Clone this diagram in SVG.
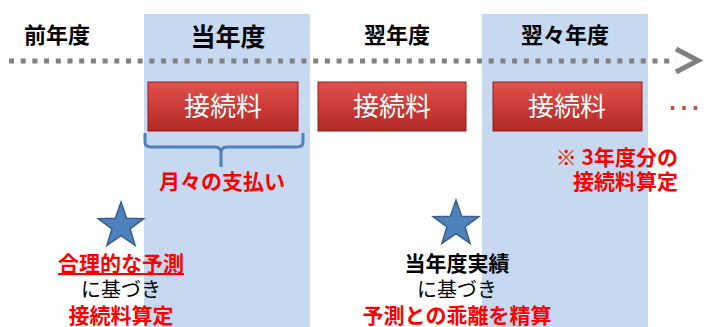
<svg xmlns="http://www.w3.org/2000/svg" width="709" height="327" viewBox="0 0 709 327">
<defs>
<style>
.hdr{font-family:"Noto Sans CJK JP","Noto Sans CJK SC",sans-serif;font-weight:bold;fill:#000;text-anchor:middle}
.box{stroke:#8e1f1c;stroke-width:1;fill:url(#rg)}
.bt{font-family:"Noto Sans CJK JP","Noto Sans CJK SC",sans-serif;font-size:26px;fill:#fff;text-anchor:middle}
.red{font-family:"Noto Sans CJK JP","Noto Sans CJK SC",sans-serif;font-weight:bold;fill:#ff0000;font-size:21px}
.blk{font-family:"Noto Sans CJK JP","Noto Sans CJK SC",sans-serif;fill:#000;font-size:20px}
.star{fill:#4f81bd;stroke:#385d8a;stroke-width:1.5}
</style>
<linearGradient id="rg" x1="0" y1="0" x2="0" y2="1">
<stop offset="0" stop-color="#e0534f"/>
<stop offset="0.5" stop-color="#cc3b37"/>
<stop offset="1" stop-color="#b02a26"/>
</linearGradient>
<path id="starshape" d="M0,-24 L5.6,-7.7 L22.8,-7.4 L9.1,3 L14.1,19.4 L0,9.6 L-14.1,19.4 L-9.1,3 L-22.8,-7.4 L-5.6,-7.7 Z"/>
</defs>
<rect width="709" height="327" fill="#fff"/>
<g id="columns">
<rect x="144" y="14" width="166" height="313" fill="#c6d9f0"/>
<rect x="482" y="14" width="166" height="313" fill="#c6d9f0"/>
</g>
<g id="connectors">
<line x1="9" y1="61" x2="676" y2="61" stroke="#808080" stroke-width="5" stroke-dasharray="5 6.7"/>
<polyline points="676,49 698,60.5 676,72" fill="none" stroke="#808080" stroke-width="5" stroke-linejoin="miter"/>
<path d="M145,133 V142 Q145,147 151,147 H215 Q221,147 221,153 V167 M221,153 Q221,147 227,147 H297 Q303,147 303,142 V133" fill="none" stroke="#4f81bd" stroke-width="3"/>
</g>
<g id="headers">
<text class="hdr" x="57" y="43" font-size="22">前年度</text>
<text class="hdr" x="228" y="46" font-size="25">当年度</text>
<text class="hdr" x="397" y="43" font-size="22">翌年度</text>
<text class="hdr" x="565" y="43" font-size="22">翌々年度</text>
</g>
<g id="box1">
<rect class="box" x="148" y="82" width="150" height="49"/>
<text class="bt" x="223" y="116">接続料</text>
</g>
<g id="box2">
<rect class="box" x="318" y="82" width="148" height="49"/>
<text class="bt" x="392" y="116">接続料</text>
</g>
<g id="box3">
<rect class="box" x="493" y="82" width="149" height="49"/>
<text class="bt" x="567" y="116">接続料</text>
</g>
<g id="ellipsis">
<text x="684" y="110" font-family="Liberation Sans, sans-serif" font-size="36" fill="#c0504d" text-anchor="middle">…</text>
</g>
<g id="monthly">
<text class="red" x="222" y="189" text-anchor="middle">月々の支払い</text>
</g>
<g id="note">
<text class="red" x="678" y="165" text-anchor="end">※ 3年度分の</text>
<text class="red" x="678" y="189" text-anchor="end">接続料算定</text>
</g>
<g id="star1">
<use href="#starshape" class="star" transform="translate(121,226)"/>
</g>
<g id="star2">
<use href="#starshape" class="star" transform="translate(456,224)"/>
</g>
<g id="label1">
<text class="red" x="121" y="271" text-anchor="middle" text-decoration="underline">合理的な予測</text>
<text class="blk" x="121" y="297" text-anchor="middle">に基づき</text>
<text class="red" x="121" y="323" text-anchor="middle">接続料算定</text>
</g>
<g id="label2">
<text class="red" x="457" y="271" text-anchor="middle" style="fill:#000">当年度実績</text>
<text class="blk" x="457" y="297" text-anchor="middle">に基づき</text>
<text class="red" x="457" y="323" text-anchor="middle">予測との乖離を精算</text>
</g>
</svg>
